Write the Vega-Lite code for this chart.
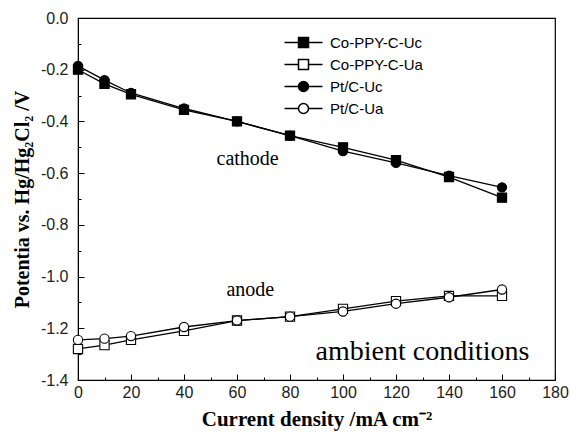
{
  "$schema": "https://vega.github.io/schema/vega-lite/v6.json",
  "width": 477,
  "height": 362,
  "autosize": {"type": "none"},
  "padding": {"left": 78, "top": 18, "right": 16, "bottom": 53},
  "background": "white",
  "config": {"view": {"stroke": "black", "strokeWidth": 1.2}},
  "datasets": {
    "pts": [
      {"series": "Co-PPY-C-Uc", "j": 0, "E": -0.2},
      {"series": "Co-PPY-C-Uc", "j": 10, "E": -0.255},
      {"series": "Co-PPY-C-Uc", "j": 20, "E": -0.295},
      {"series": "Co-PPY-C-Uc", "j": 40, "E": -0.355},
      {"series": "Co-PPY-C-Uc", "j": 60, "E": -0.4},
      {"series": "Co-PPY-C-Uc", "j": 80, "E": -0.455},
      {"series": "Co-PPY-C-Uc", "j": 100, "E": -0.5},
      {"series": "Co-PPY-C-Uc", "j": 120, "E": -0.55},
      {"series": "Co-PPY-C-Uc", "j": 140, "E": -0.615},
      {"series": "Co-PPY-C-Uc", "j": 160, "E": -0.695},
      {"series": "Co-PPY-C-Ua", "j": 0, "E": -1.28},
      {"series": "Co-PPY-C-Ua", "j": 10, "E": -1.265},
      {"series": "Co-PPY-C-Ua", "j": 20, "E": -1.245},
      {"series": "Co-PPY-C-Ua", "j": 40, "E": -1.21},
      {"series": "Co-PPY-C-Ua", "j": 60, "E": -1.17},
      {"series": "Co-PPY-C-Ua", "j": 80, "E": -1.155},
      {"series": "Co-PPY-C-Ua", "j": 100, "E": -1.125},
      {"series": "Co-PPY-C-Ua", "j": 120, "E": -1.095},
      {"series": "Co-PPY-C-Ua", "j": 140, "E": -1.075},
      {"series": "Co-PPY-C-Ua", "j": 160, "E": -1.075},
      {"series": "Pt/C-Uc", "j": 0, "E": -0.185},
      {"series": "Pt/C-Uc", "j": 10, "E": -0.24},
      {"series": "Pt/C-Uc", "j": 20, "E": -0.29},
      {"series": "Pt/C-Uc", "j": 40, "E": -0.35},
      {"series": "Pt/C-Uc", "j": 60, "E": -0.4},
      {"series": "Pt/C-Uc", "j": 80, "E": -0.455},
      {"series": "Pt/C-Uc", "j": 100, "E": -0.515},
      {"series": "Pt/C-Uc", "j": 120, "E": -0.56},
      {"series": "Pt/C-Uc", "j": 140, "E": -0.61},
      {"series": "Pt/C-Uc", "j": 160, "E": -0.655},
      {"series": "Pt/C-Ua", "j": 0, "E": -1.245},
      {"series": "Pt/C-Ua", "j": 10, "E": -1.24},
      {"series": "Pt/C-Ua", "j": 20, "E": -1.23},
      {"series": "Pt/C-Ua", "j": 40, "E": -1.195},
      {"series": "Pt/C-Ua", "j": 60, "E": -1.17},
      {"series": "Pt/C-Ua", "j": 80, "E": -1.155},
      {"series": "Pt/C-Ua", "j": 100, "E": -1.135},
      {"series": "Pt/C-Ua", "j": 120, "E": -1.105},
      {"series": "Pt/C-Ua", "j": 140, "E": -1.08},
      {"series": "Pt/C-Ua", "j": 160, "E": -1.05}
    ],
    "notes": [
      {"label": "cathode", "j": 64, "E": -0.545, "kind": "small"},
      {"label": "anode", "j": 65, "E": -1.052, "kind": "small"},
      {"label": "ambient conditions", "j": 130, "E": -1.29, "kind": "big"}
    ]
  },
  "encoding": {
    "x": {
      "field": "j", "type": "quantitative",
      "scale": {"domain": [0, 180], "nice": false},
      "axis": {
        "title": "Current density /mA cm\u207b\u00b2",
        "titleFont": "Liberation Serif", "titleFontSize": 21, "titleFontWeight": "bold", "titleColor": "black",
        "titlePadding": 8,
        "values": [0,10,20,30,40,50,60,70,80,90,100,110,120,130,140,150,160,170,180],
        "labelExpr": "datum.value % 20 == 0 ? datum.label : ''",
        "labelFont": "Liberation Sans", "labelFontSize": 16, "labelColor": "#222",
        "labelPadding": 10, "labelFlush": false,
        "tickSize": {"condition": {"test": "datum.value % 20 == 0", "value": -6}, "value": -3},
        "tickColor": "black", "domainColor": "black", "grid": false
      }
    },
    "y": {
      "field": "E", "type": "quantitative",
      "scale": {"domain": [-1.4, 0], "nice": false, "zero": false},
      "axis": {
        "title": "Potentia vs. Hg/Hg\u2082Cl\u2082 /V",
        "titleFont": "Liberation Serif", "titleFontSize": 20, "titleFontWeight": "bold", "titleColor": "black",
        "titlePadding": 8,
        "values": [-1.4,-1.3,-1.2,-1.1,-1.0,-0.9,-0.8,-0.7,-0.6,-0.5,-0.4,-0.3,-0.2,-0.1,0],
        "labelExpr": "round(datum.value*10) % 2 == 0 ? replace(format(datum.value, '.1f'), '\u2212', '-') : ''",
        "labelFont": "Liberation Sans", "labelFontSize": 16, "labelColor": "#222",
        "labelPadding": 16, "labelFlush": false,
        "tickSize": {"condition": {"test": "round(datum.value*10) % 2 == 0", "value": -6}, "value": -3},
        "tickColor": "black", "domainColor": "black", "grid": false
      }
    }
  },
  "layer": [
    {
      "data": {"name": "pts"},
      "mark": {"type": "line", "color": "black", "strokeWidth": 1.3},
      "encoding": {"detail": {"field": "series"}}
    },
    {
      "data": {"name": "pts"},
      "mark": {"type": "point", "filled": false, "stroke": "black", "strokeWidth": 1.1, "size": 85, "opacity": 1},
      "encoding": {
        "shape": {
          "field": "series", "type": "nominal",
          "scale": {"domain": ["Co-PPY-C-Uc", "Co-PPY-C-Ua", "Pt/C-Uc", "Pt/C-Ua"], "range": ["square", "square", "circle", "circle"]},
          "legend": null
        },
        "fill": {
          "field": "series", "type": "nominal",
          "scale": {"domain": ["Co-PPY-C-Uc", "Co-PPY-C-Ua", "Pt/C-Uc", "Pt/C-Ua"], "range": ["black", "white", "black", "white"]},
          "legend": null
        }
      }
    },
    {
      "data": {"name": "pts"},
      "transform": [{"filter": "datum.j == 0"}],
      "mark": {"type": "point", "filled": false, "stroke": "black", "strokeWidth": 1.2, "opacity": 0, "size": 1},
      "encoding": {
        "shape": {
          "field": "series", "type": "nominal",
          "scale": {"domain": ["Co-PPY-C-Uc", "Co-PPY-C-Ua", "Pt/C-Uc", "Pt/C-Ua"],
                    "range": ["M-3.8,0L-1,0M1,0L3.8,0M-1,-1L1,-1L1,1L-1,1Z", "M-3.8,0L-1,0M1,0L3.8,0M-1,-1L1,-1L1,1L-1,1Z", "M-3.8,0L-1,0M1,0L3.8,0M-1,0A1,1,0,1,0,1,0A1,1,0,1,0,-1,0Z", "M-3.8,0L-1,0M1,0L3.8,0M-1,0A1,1,0,1,0,1,0A1,1,0,1,0,-1,0Z"]},
          "legend": {
            "orient": "none", "legendX": 218, "legendY": 17, "title": null,
            "labelFont": "Liberation Sans", "labelFontSize": 15, "labelColor": "black",
            "symbolSize": 100, "rowPadding": 5, "labelOffset": 19,
            "symbolOpacity": 1
          }
        },
        "fill": {
          "field": "series", "type": "nominal",
          "scale": {"domain": ["Co-PPY-C-Uc", "Co-PPY-C-Ua", "Pt/C-Uc", "Pt/C-Ua"], "range": ["black", "white", "black", "white"]},
          "legend": {
            "orient": "none", "legendX": 218, "legendY": 17, "title": null,
            "labelFont": "Liberation Sans", "labelFontSize": 15, "labelColor": "black",
            "symbolSize": 100, "rowPadding": 5, "labelOffset": 19,
            "symbolOpacity": 1
          }
        }
      }
    },
    {
      "data": {"name": "notes"},
      "transform": [{"filter": "datum.kind == 'small'"}],
      "mark": {"type": "text", "font": "Liberation Serif", "fontSize": 20, "color": "black", "align": "center", "baseline": "middle"},
      "encoding": {"text": {"field": "label"}}
    },
    {
      "data": {"name": "notes"},
      "transform": [{"filter": "datum.kind == 'big'"}],
      "mark": {"type": "text", "font": "Liberation Serif", "fontSize": 28, "color": "black", "align": "center", "baseline": "middle"},
      "encoding": {"text": {"field": "label"}}
    }
  ],
  "resolve": {"scale": {"shape": "independent", "fill": "independent"}}
}
